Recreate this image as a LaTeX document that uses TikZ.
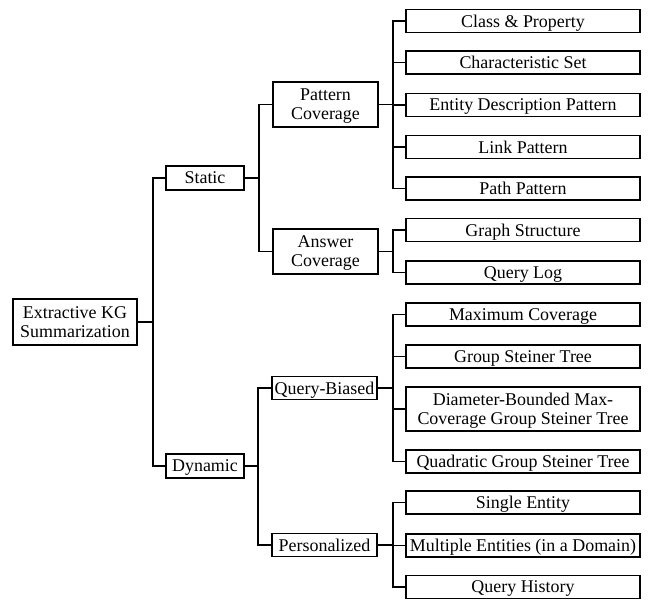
\documentclass[tikz,border=0pt]{standalone}
\usepackage{fontspec}
\setmainfont{Liberation Serif}
\usetikzlibrary{calc}

\tikzset{
  box/.style = {draw, line width=1.6bp, align=center, inner sep=0pt, text depth=0pt,
                font=\fontsize{18}{19}\selectfont},
  leaf/.style = {box, minimum width=234bp},
  link/.style = {line width=1.6bp}
}

\begin{document}
\begin{tikzpicture}[x=1bp, y=-1bp]
\useasboundingbox (0,0) rectangle (649,600);
\node[box, minimum width=124bp, minimum height=46bp] (root) at (75,322) {Extractive KG\\Summarization};
\node[box, minimum width=78bp, minimum height=24bp] (static) at (205,178) {Static};
\node[box, minimum width=78bp, minimum height=24bp] (dynamic) at (205,466) {Dynamic};
\node[box, minimum width=105bp, minimum height=45bp] (pattern) at (325.5,104.5) {Pattern\\Coverage};
\node[box, minimum width=105bp, minimum height=45bp] (answer) at (325.5,251.5) {Answer\\Coverage};
\node[box, minimum width=105bp, minimum height=23bp] (biased) at (324.5,388) {Query-Biased};
\node[box, minimum width=105bp, minimum height=23bp] (personal) at (324.5,545) {Personalized};
\foreach \n/\y/\h/\t in {cp/21/23/Class \& Property, cs/62.5/23/Characteristic Set,
    edp/105/23/Entity Description Pattern, lp/147/23/Link Pattern, pp/188.5/23/Path Pattern,
    gs/230/23/Graph Structure, ql/272.5/23/Query Log,
    mc/314.5/23/Maximum Coverage, gst/356.5/23/Group Steiner Tree,
    dbm/409/44/Diameter-Bounded Max-\\Coverage Group Steiner Tree,
    qgst/461.5/23/Quadratic Group Steiner Tree,
    se/502.5/23/Single Entity, me/545.5/23/Multiple Entities (in a Domain),
    qh/587/23/Query History}
  {\node[leaf, minimum height=\h bp] (\n) at (523,\y) {\t};}
% connectors
\foreach \c in {static,dynamic}{\draw[link] (root.east) -- ++(15,0) |- (\c.west);}
\foreach \c in {pattern,answer}{\draw[link] (static.east) -- ++(14,0) |- (\c.west);}
\foreach \c in {biased,personal}{\draw[link] (dynamic.east) -- ++(13,0) |- (\c.west);}
\foreach \c in {cp,cs,edp,lp,pp}{\draw[link] (pattern.east) -- ++(14,0) |- (\c.west);}
\foreach \c in {gs,ql}{\draw[link] (answer.east) -- ++(14,0) |- (\c.west);}
\foreach \c in {mc,gst,dbm,qgst}{\draw[link] (biased.east) -- ++(15,0) |- (\c.west);}
\foreach \c in {se,me,qh}{\draw[link] (personal.east) -- ++(15,0) |- (\c.west);}
\end{tikzpicture}
\end{document}
